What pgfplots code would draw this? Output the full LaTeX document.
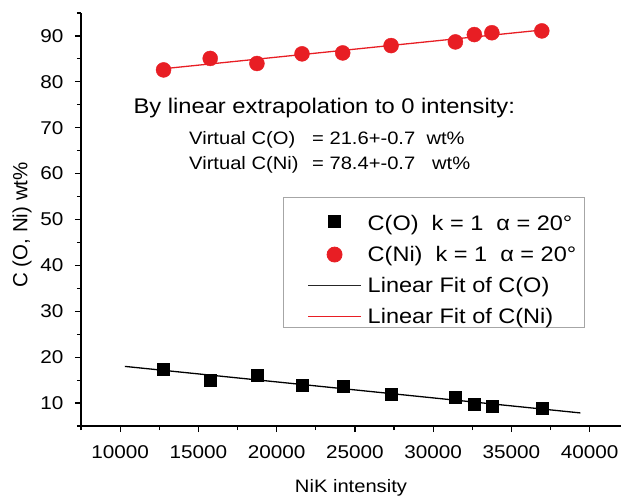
\documentclass[border=0pt]{standalone}
\usepackage{fontspec}
\setmainfont{Liberation Sans}[FakeStretch=1.12]
\newfontfamily\plainfont{Liberation Sans}
\usepackage{pgfplots}
\pgfplotsset{compat=1.18}
\definecolor{ptred}{RGB}{232,30,36}
\pgfplotsset{
    markleg/.style={legend image code/.code={\path (-18pt,0pt) (57pt,0pt); \draw[##1] plot coordinates {(26.5pt,0pt)};}},
    markleglow/.style={legend image code/.code={\path (-18pt,12pt) (57pt,0pt); \draw[##1] plot coordinates {(26.5pt,-6pt)};}},
    lineleg/.style={legend image code/.code={\path (-18pt,0pt) (57pt,0pt); \draw[##1] (0pt,0pt) -- (53pt,0pt);}},
}

\begin{document}
\begin{tikzpicture}
\useasboundingbox (-81pt,-70pt) rectangle (540pt,426pt);
\begin{axis}[
    scale only axis,
    width=540pt, height=413pt,
    xmin=7500, xmax=42000,
    ymin=5, ymax=95,
    axis lines*=left,
    axis line style={line width=1.6pt},
    tick align=outside,
    major tick length=6pt,
    minor tick length=4pt,
    every tick/.style={black,line width=1.2pt},
    xtick={10000,15000,...,40000},
    ytick={10,20,...,90},
    minor xtick={7500,12500,...,37500},
    minor ytick={5,15,...,95},
    scaled x ticks=false,
    /pgf/number format/.cd, 1000 sep={}, assume math mode=true, /pgfplots/.cd,
    ticklabel style={font=\fontsize{18.5}{20}\selectfont},
    xticklabel style={yshift=-10pt},
    yticklabel style={xshift=-8pt},
    xlabel={NiK intensity},
    ylabel={C (O, Ni) wt\%},
    xlabel style={font=\fontsize{18}{20}\selectfont, at={(axis description cs:0.5,-0.162)}, anchor=base},
    ylabel style={font=\plainfont\fontsize{20.5}{22}\selectfont, at={(axis description cs:-0.109,0.487)}, anchor=center},
    legend style={at={(0.3741,0.5545)}, anchor=north west, draw=gray!70, line width=0.8pt,
        font=\fontsize{21}{24}\selectfont, inner xsep=6pt, inner ysep=0pt, row sep=10.3pt},
    legend cell align=left,
]
% fit lines drawn first so the points sit on top
\addplot[black, line width=1.3pt, forget plot] coordinates {(10300,17.99) (39400,7.85)};
\addplot[ptred, line width=1.3pt, forget plot] coordinates {(12775,82.86) (36940,91.29)};

\addplot[only marks, mark=square*, mark size=6pt, black, markleglow]
    coordinates {
    (12775,17.3) (15755,14.9) (18740,16.0) (21620,13.9) (24220,13.7)
    (27310,12.0) (31420,11.2) (32630,9.8) (33750,9.3) (36940,8.8)
};
\addlegendentry{\rule{0pt}{31pt}C(O)\ \ k = 1\ \ α = 20°\hspace*{3pt}}

\addplot[only marks, mark=*, mark size=7.5pt, ptred, draw=ptred, markleg]
    coordinates {
    (12775,82.6) (15755,85.1) (18740,84.0) (21620,86.1) (24220,86.3)
    (27310,87.9) (31420,88.7) (32630,90.3) (33750,90.7) (36940,91.1)
};
\addlegendentry{C(Ni)\ \ k = 1\ \ α = 20°}

\addlegendimage{draw=black!85, line width=1.3pt, lineleg}
\addlegendentry{Linear Fit of C(O)}
\addlegendimage{draw=ptred, color=ptred, line width=1.1pt, lineleg}
\addlegendentry{Linear Fit of C(Ni)}
\end{axis}

\node[anchor=base west, font=\fontsize{21.2}{24}\selectfont] at (49pt,312pt) {By linear extrapolation to 0 intensity:};
\node[anchor=base west, font=\fontsize{18}{20}\selectfont, inner sep=0pt] at (108pt,281pt) {Virtual C(O)};
\node[anchor=base west, font=\fontsize{18}{20}\selectfont, inner sep=0pt] at (231pt,281pt) {= 21.6+-0.7\ \ wt\%};
\node[anchor=base west, font=\fontsize{18}{20}\selectfont, inner sep=0pt] at (108pt,256pt) {Virtual C(Ni)};
\node[anchor=base west, font=\fontsize{18}{20}\selectfont, inner sep=0pt] at (231pt,256pt) {= 78.4+-0.7\ \ \ wt\%};
\end{tikzpicture}
\end{document}
